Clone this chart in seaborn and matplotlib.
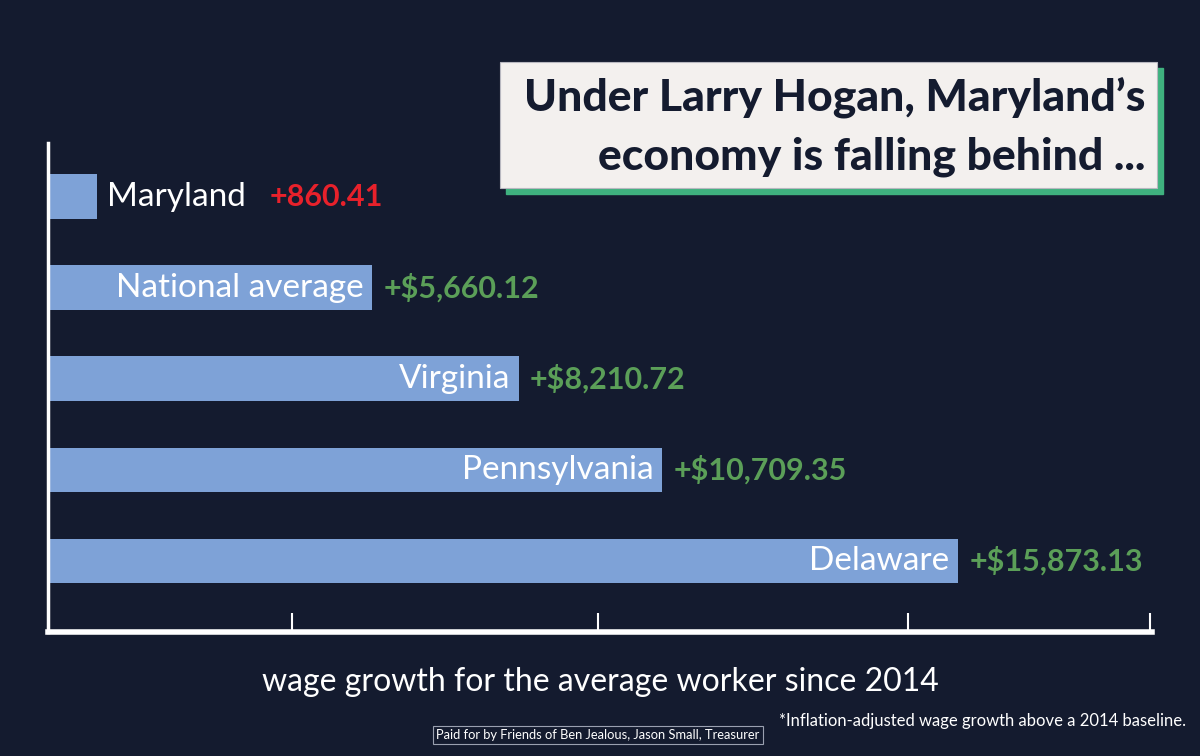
import pandas as pd
import seaborn as sns
import matplotlib.pyplot as plt
from matplotlib.patches import Rectangle

# data
states = ["Maryland", "National average", "Virginia", "Pennsylvania", "Delaware"]
growth = [860.41, 5660.12, 8210.72, 10709.35, 15873.13]
value_labels = ["+860.41", "+$5,660.12", "+$8,210.72", "+$10,709.35", "+$15,873.13"]
value_colors = ["#e8212b", "#5b9f58", "#5b9f58", "#5b9f58", "#5b9f58"]

bg = "#141b2f"
bar_color = "#7ea2d7"

df = pd.DataFrame({"state": states, "growth": growth})

sns.set_style("white")
plt.rcParams["font.family"] = ["Lato", "DejaVu Sans"]

fig = plt.figure(figsize=(12, 7.56), dpi=100, facecolor=bg)
ax = fig.add_axes([0.04, 0.164, 0.92, 0.647])
ax.set_facecolor(bg)

sns.barplot(data=df, x="growth", y="state", orient="h", color=bar_color,
            saturation=1, width=0.49, linewidth=0, ax=ax)

ax.set_xlim(0, 19260)
ax.set_ylim(4.78, -0.59)

for i, (v, lab, c, name) in enumerate(zip(growth, value_labels, value_colors, states)):
    if i == 0:
        ax.text(v + 170, i, name, color="white", fontsize=24,
                va="center", ha="left")
        ax.text(v + 3000, i, lab, color=c, fontsize=22, fontweight="bold",
                va="center", ha="left")
    else:
        ax.text(v - 150, i, name, color="white", fontsize=24,
                va="center", ha="right")
        ax.text(v + 200, i, lab, color=c, fontsize=22, fontweight="bold",
                va="center", ha="left")

for s in ["top", "right"]:
    ax.spines[s].set_visible(False)
ax.spines["left"].set_color("white")
ax.spines["left"].set_linewidth(2.5)
ax.spines["bottom"].set_color("white")
ax.spines["bottom"].set_linewidth(4)

ax.set_yticks([])
ax.set_xticks([4250, 9600, 15000, 19230])
ax.set_xticklabels([])
ax.tick_params(axis="x", direction="in", length=14, width=1.5, color="white", bottom=True)
ax.set_ylabel("")
ax.set_xlabel("wage growth for the average worker since 2014", color="white",
              fontsize=23, labelpad=22)

# title box with green shadow
fig.patches.append(Rectangle((506 / 1200, 1 - 194 / 756), 657 / 1200, 126 / 756,
                             transform=fig.transFigure, color="#3fb17f", zorder=1))
fig.patches.append(Rectangle((500 / 1200, 1 - 188 / 756), 657 / 1200, 126 / 756,
                             transform=fig.transFigure, facecolor="#f3f0ee",
                             edgecolor="#b8b8c0", linewidth=0.8, zorder=2))
fig.text(1145 / 1200, 1 - 98 / 756, "Under Larry Hogan, Maryland\u2019s", ha="right",
         va="center", fontsize=32, fontweight="black", color="#141b2f", zorder=3)
fig.text(1145 / 1200, 1 - 157 / 756, "economy is falling behind ...", ha="right",
         va="center", fontsize=32, fontweight="black", color="#141b2f", zorder=3)

fig.text(598 / 1200, 1 - 735 / 756, "Paid for by Friends of Ben Jealous, Jason Small, Treasurer",
         ha="center", va="center", fontsize=9.3, color="white",
         bbox=dict(facecolor=bg, edgecolor="#9aa0b0", linewidth=0.8, pad=2.5))
fig.text(1186 / 1200, 1 - 721 / 756, "*Inflation-adjusted wage growth above a 2014 baseline.",
         ha="right", va="center", fontsize=12, color="white")

fig.savefig("out.png", dpi=100, facecolor=bg)
